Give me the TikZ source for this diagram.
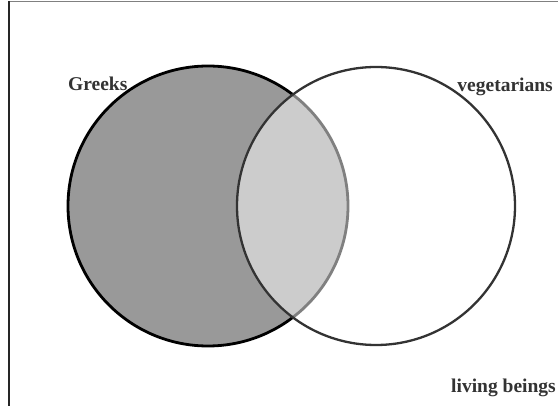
\documentclass[tikz,border=0pt]{standalone}
\usepackage{fontspec}
\setmainfont{Liberation Serif}
\begin{document}
\begin{tikzpicture}[x=1pt,y=-1pt,
  lbl/.style={font=\fontsize{19.5}{21}\selectfont\bfseries, text=black!80, inner sep=0pt}]
\useasboundingbox (0,0) rectangle (558,406);
\fill[white] (0,0) rectangle (558,406);
% frame
\coordinate (tl) at (9,1.5);
\coordinate (tr) at (558,1.5);
\coordinate (bl) at (9,406);
\draw[black!50, line width=1.5pt] (tl) -- (tr);
\draw[black!85, line width=1.5pt] (tl) -- (bl);
% circles
\coordinate (G) at (208,206);
\coordinate (V) at (376,206);
\fill[black!40] (G) circle (140);
\draw[black, line width=2.8pt] (G) circle (140);
\fill[white, opacity=0.5] (V) circle (139);
\draw[black!80, line width=2.3pt] (V) circle (139);
% labels
\node[lbl, anchor=base west] (greeks) at (68,90.5) {Greeks};
\node[lbl, anchor=base east] (veg) at (553,91.5) {vegetarians};
\node[lbl, anchor=base east] (living) at (556,393) {living beings};
\end{tikzpicture}
\end{document}
